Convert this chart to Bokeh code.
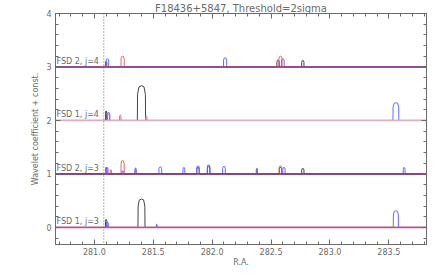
from bokeh.plotting import figure
from bokeh.models import Range1d, LinearAxis, SingleIntervalTicker, Span, Label, PrintfTickFormatter
from bokeh.embed import file_html
from bokeh.resources import INLINE
import numpy as np

TITLE = "F18436+5847, Threshold=2sigma"
XLABEL = "R.A."
YLABEL = "Wavelet coefficient + const."
DOTTED_RA = 281.08

panel_labels = ["FSD 1, j=3", "FSD 2, j=3", "FSD 1, j=4", "FSD 2, j=4"]
panel_offsets = [0, 1, 2, 3]

# peaks per panel: (centers, heights, half-widths)
p0_black = ([281.10, 281.40], [0.15, 0.53], [0.006, 0.03])
p0_red = ([281.11], [0.08], [0.006])
p0_blue = ([281.11, 281.53, 283.56], [0.10, 0.06, 0.31], [0.008, 0.003, 0.022])

p1_black = ([281.10, 281.88, 281.97, 282.58, 282.77], [0.12, 0.12, 0.14, 0.12, 0.10], [0.006, 0.01, 0.01, 0.01, 0.01])
p1_red = ([281.10, 281.14, 281.24, 281.35, 282.38, 282.58], [0.12, 0.08, 0.25, 0.10, 0.10, 0.15], [0.005, 0.005, 0.014, 0.005, 0.005, 0.012])
p1_blue = ([281.11, 281.24, 281.35, 281.56, 281.76, 281.88, 281.97, 282.10, 282.38, 282.61, 283.63],
           [0.12, 0.06, 0.11, 0.13, 0.12, 0.15, 0.17, 0.14, 0.10, 0.12, 0.12],
           [0.006, 0.005, 0.005, 0.012, 0.008, 0.012, 0.012, 0.012, 0.005, 0.01, 0.008])

p2_black = ([281.10, 281.40], [0.18, 0.65], [0.005, 0.035])
p2_red = ([281.12, 281.22, 281.44], [0.12, 0.10, 0.08], [0.008, 0.006, 0.006])
p2_blue = ([281.12, 283.56], [0.15, 0.33], [0.012, 0.025])

p3_black = ([281.10, 282.56, 282.77], [0.10, 0.13, 0.12], [0.006, 0.01, 0.01])
p3_red = ([281.24, 282.58], [0.20, 0.20], [0.014, 0.014])
p3_blue = ([281.11, 282.11, 282.60], [0.15, 0.17, 0.15], [0.012, 0.014, 0.012])

panels = [
    (p0_black, p0_red, p0_blue),
    (p1_black, p1_red, p1_blue),
    (p2_black, p2_red, p2_blue),
    (p3_black, p3_red, p3_blue),
]
baseline_colors = ["#c8507a", "#8a3068", "#dcb0c0", "#94407c"]
series_colors = ["#444444", "#e06a6a", "#6a6aff"]

XMIN, XMAX = 280.67, 283.82
YMIN, YMAX = -0.32, 4.0

GREY = "#6a6a6a"
FONT = "DejaVu Sans"

p = figure(width=435, height=269, output_backend="svg", toolbar_location=None,
           x_range=Range1d(XMIN, XMAX), y_range=Range1d(YMIN, YMAX),
           min_border_left=55, min_border_right=9, min_border_top=0, min_border_bottom=0,
           title=TITLE)
p.title.align = "center"
p.title.text_font = FONT
p.title.text_font_size = "10px"
p.title.text_font_style = "normal"
p.title.text_color = GREY
p.title.offset = 0
p.title.standoff = 0
p.grid.visible = False
p.outline_line_color = GREY
p.background_fill_color = "white"

shape_x = np.array([-1.0, -0.95, -0.6, 0.0, 0.6, 0.95, 1.0])
shape_y = np.array([0.0, 0.75, 0.97, 1.0, 0.97, 0.75, 0.0])


def series_xy(peaks, off):
    cs, hs, ws = peaks
    xs = [XMIN]
    ys = [off]
    for c, h, w in sorted(zip(cs, hs, ws)):
        xs.extend(list(c + w * shape_x))
        ys.extend(list(off + h * shape_y))
    xs.append(XMAX)
    ys.append(off)
    return xs, ys


for (series, off, bcol, lab) in zip(panels, panel_offsets, baseline_colors, panel_labels):
    for peaks, col in zip(series, series_colors):
        xs, ys = series_xy(peaks, off)
        p.line(xs, ys, line_color=col, line_width=1)
    p.line([XMIN, XMAX], [off, off], line_color=bcol, line_width=1.5)
    p.add_layout(Label(x=XMIN, y=off, x_offset=1, y_offset=1, text=lab, text_font=FONT,
                       text_font_size="8px", text_color=GREY, text_baseline="bottom"))

p.add_layout(Span(location=DOTTED_RA, dimension="height", line_color=GREY,
                  line_dash="1 2", line_width=1))


def style_axis(ax, labels=True):
    ax.axis_line_color = GREY
    ax.major_tick_line_color = GREY
    ax.minor_tick_line_color = GREY
    ax.major_tick_in = 5
    ax.major_tick_out = 0
    ax.minor_tick_in = 3
    ax.minor_tick_out = 0
    ax.major_label_text_font = FONT
    ax.major_label_text_font_size = "8px"
    ax.major_label_text_color = GREY if labels else None
    ax.axis_label_text_font = FONT
    ax.axis_label_text_font_size = "8px"
    ax.axis_label_text_color = GREY
    ax.axis_label_text_font_style = "normal"
    ax.major_label_standoff = 4
    ax.axis_label_standoff = 3


p.xaxis.ticker = SingleIntervalTicker(interval=0.5, num_minor_ticks=5)
p.yaxis.ticker = SingleIntervalTicker(interval=1, num_minor_ticks=5)
p.xaxis.formatter = PrintfTickFormatter(format="%.1f")
p.xaxis.axis_label = XLABEL
p.yaxis.axis_label = YLABEL
style_axis(p.xaxis[0])
style_axis(p.yaxis[0])
p.xaxis.major_label_standoff = 3
p.xaxis.axis_label_standoff = 0
p.yaxis.major_label_orientation = 0

top = LinearAxis(ticker=SingleIntervalTicker(interval=0.5, num_minor_ticks=5))
style_axis(top, labels=False)
top.major_label_text_font_size = "0px"
top.major_label_standoff = 0
p.add_layout(top, "above")
right = LinearAxis(ticker=SingleIntervalTicker(interval=1, num_minor_ticks=5))
style_axis(right, labels=False)
right.major_label_text_font_size = "0px"
right.major_label_standoff = 0
p.add_layout(right, "right")

open("out.html", "w").write(file_html(p, INLINE))
